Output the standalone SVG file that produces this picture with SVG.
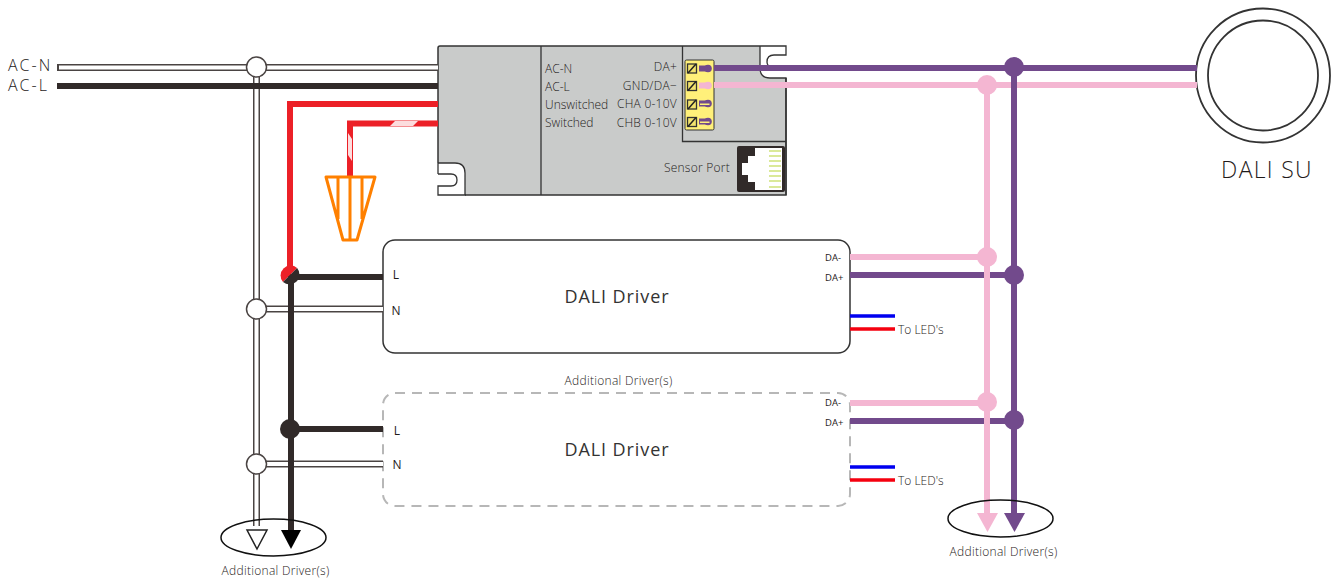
<svg xmlns="http://www.w3.org/2000/svg" width="1335" height="582" viewBox="0 0 1335 582">
<defs>
<style>
text{font-family:"Open Sans","Noto Sans","Liberation Sans",sans-serif;fill:#1f1b1a;font-weight:300}
.nb{fill:none;stroke:#4a4443;stroke-width:7}
.nw{fill:none;stroke:#fff;stroke-width:4}
.blk{fill:none;stroke:#312a29;stroke-width:6}
.red{fill:none;stroke:#ec2027;stroke-width:6}
.pur{fill:none;stroke:#724a8c;stroke-width:6}
.pnk{fill:none;stroke:#f4b6d2;stroke-width:6}
.cj{fill:#fff;stroke:#4a4443;stroke-width:1.5}
.org{fill:none;stroke:#ff8000;stroke-width:3;stroke-linejoin:round}
.blu{stroke:#0000f0;stroke-width:3.5}
.rd2{stroke:#f5000f;stroke-width:3.5}
.sc{fill:#f2e36e;stroke:#333;stroke-width:1.3}
.box{fill:#fff;stroke:#333;stroke-width:1.5}
.e{fill:none;stroke:#111;stroke-width:1.5}
.gr{stroke:#b5d334;stroke-width:1.2}
.da{font-size:9.5px;font-weight:400}
.ad{font-size:12px;letter-spacing:.3px}
.dd{font-size:18px;letter-spacing:.9px;font-weight:400;fill:#333}
.lr{font-size:12px;font-weight:400}
</style>
</defs>
<g id="sensor-unit">
<circle cx="1263" cy="75.500" r="67" fill="#fff" stroke="#333" stroke-width="1.800"/>
<circle cx="1263" cy="75.500" r="55" fill="#fff" stroke="#333" stroke-width="1.800"/>
<text x="1267" y="178" font-size="23" letter-spacing="1.300" text-anchor="middle">DALI SU</text>
</g>
<g id="controller">
<path d="M440 46H786V195H440a2 2 0 0 1-2-2V48a2 2 0 0 1 2-2Z" fill="#c9cbca" stroke="#333" stroke-width="1.500"/>
<path d="M760 45V68Q760 78 770 78H787V45Z" fill="#fff"/>
<path d="M760 46H786V55H774Q767 55 767 62Q767 67 773 67H786M760 46V68Q760 78 770 78H786V195" fill="none" stroke="#333" stroke-width="1.300"/>
<path d="M437 163H455Q465 163 465 173V196H437Z" fill="#fff"/>
<path d="M438 163H455Q465 163 465 173V195M438 174H451Q457 174 457 180Q457 186 451 186H438V195H466M438 163V174" fill="none" stroke="#333" stroke-width="1.300"/>
<path d="M541 46V195M682.500 46V141.500H786" fill="none" stroke="#333" stroke-width="1.300"/>
<rect x="685" y="60" width="29" height="70" rx="1.500" fill="#fff07a" stroke="#333" stroke-width="1"/>
<g id="terminals">
<rect class="sc" x="687.500" y="64" width="9" height="9"/><path d="M688 73L696 64" stroke="#222" stroke-width="1.500"/>
<rect class="sc" x="687.500" y="81.500" width="9" height="9"/><path d="M688 90.500L696 81.500" stroke="#222" stroke-width="1.500"/>
<rect class="sc" x="687.500" y="100" width="9" height="9"/><path d="M688 109L696 100" stroke="#222" stroke-width="1.500"/>
<rect class="sc" x="687.500" y="117.500" width="9" height="9"/><path d="M688 126.500L696 117.500" stroke="#222" stroke-width="1.500"/>
<path d="M699 65.500H707V71.500H699Z" fill="#724a8c"/><circle cx="708" cy="68.500" r="3.800" fill="#724a8c"/>
<path d="M699 82.500H707V88.500H699Z" fill="#f4b6d2"/><circle cx="708" cy="85.500" r="3.800" fill="#f4b6d2"/>
<path d="M699 100.500H707V106.500H699Z" fill="#724a8c"/><circle cx="708" cy="103.500" r="3.800" fill="#724a8c"/><rect x="700" y="103.500" width="9.500" height="1.500" fill="#fff07a"/>
<path d="M699 118.500H707V124.500H699Z" fill="#724a8c"/><circle cx="708" cy="121.500" r="3.800" fill="#724a8c"/><rect x="700" y="121.500" width="9.500" height="1.500" fill="#fff07a"/>
</g>
<g id="sensor-port">
<rect x="737" y="146" width="48" height="46" rx="2" fill="#312a29"/>
<path d="M755 148H782V190H755V182H748V175H742V163H748V156H755Z" fill="#fff"/>
<path class="gr" d="M769 151H781M769 156H781M769 161H781M769 166H781M769 171H781M769 176H781M769 181H781M769 187H781"/>
</g>
<g font-size="12">
<text x="545" y="73">AC-N</text>
<text x="545" y="91">AC-L</text>
<text x="545" y="108.500">Unswitched</text>
<text x="545" y="126.500">Switched</text>
</g>
<g font-size="12" letter-spacing=".25">
<text x="677" y="71" text-anchor="end">DA+</text>
<text x="677" y="90" text-anchor="end">GND/DA−</text>
<text x="677" y="108" text-anchor="end">CHA 0-10V</text>
<text x="677" y="127" text-anchor="end">CHB 0-10V</text>
<text x="730" y="172" text-anchor="end">Sensor Port</text>
</g>
</g>
<g id="driver-1">
<rect class="box" x="383" y="240" width="467" height="113" rx="12"/>
<text class="dd" x="617" y="303" text-anchor="middle">DALI Driver</text>
<text class="lr" x="396" y="279" text-anchor="middle">L</text>
<text class="lr" x="396" y="315" text-anchor="middle">N</text>
<text class="da" x="825" y="261">DA-</text>
<text class="da" x="825" y="281">DA+</text>
</g>
<g id="driver-2">
<rect x="383" y="393" width="467" height="113" rx="12" fill="#fff" stroke="#b7b7b7" stroke-width="2" stroke-dasharray="10 7"/>
<text class="dd" x="617" y="456" text-anchor="middle">DALI Driver</text>
<text class="lr" x="397" y="435" text-anchor="middle">L</text>
<text class="lr" x="397" y="469" text-anchor="middle">N</text>
<text class="da" x="825" y="406">DA-</text>
<text class="da" x="825" y="426">DA+</text>
</g>
<g id="connectors">
<path class="nb" d="M57 67.500H438M256.500 67V526M256.500 309H383M256.500 464H383"/>
<path class="nw" d="M59 67.500H438M256.500 67V526M256.500 309H383M256.500 464H383"/>
<path class="blk" d="M57 86H438"/>
<path class="red" d="M438 104H290V270"/>
<path class="red" d="M438 123.500H350V178"/>
<path d="M390 126L395 121H418L413 126ZM348 133L352 139V161L348 155Z" fill="#fff" opacity=".85"/>
<path class="blk" d="M291 275V531M290 277H383M290 429H383"/>
<path class="org" d="M326 177H375L357 240H343ZM338 177V219M350 177V240M362 177V219"/>
<circle class="cj" cx="256.500" cy="67" r="10"/>
<circle class="cj" cx="256.500" cy="309" r="10"/>
<circle class="cj" cx="256.500" cy="464" r="10"/>
<path d="M283 282.100A10 10 0 0 1 297.100 268Z" fill="#ec2027"/>
<path d="M283 282.100A10 10 0 0 0 297.100 268Z" fill="#312a29"/>
<circle cx="290" cy="429" r="10" fill="#312a29"/>
<path d="M247 530H267L257 549Z" fill="#fff" stroke="#222" stroke-width="1.500"/>
<path d="M281 530H301L291 549Z" fill="#000"/>
<path class="pnk" d="M714 85H1197"/>
<path class="pur" d="M714 68H1197M850 275H1014M850 421H1014M1014 68V515"/>
<path class="pnk" d="M850 257H987M850 403H987M987 85V515"/>
<circle cx="1014" cy="67" r="10" fill="#724a8c"/>
<circle cx="1014" cy="275" r="10" fill="#724a8c"/>
<circle cx="1014" cy="420" r="10" fill="#724a8c"/>
<circle cx="987" cy="85" r="10" fill="#f4b6d2"/>
<circle cx="987" cy="257" r="10" fill="#f4b6d2"/>
<circle cx="987" cy="402" r="10" fill="#f4b6d2"/>
<path d="M977 513H998L987.500 532Z" fill="#f4b6d2"/>
<path d="M1004 513H1025L1014.500 532Z" fill="#724a8c"/>
<path class="blu" d="M850 316H895M850 467H895"/>
<path class="rd2" d="M850 329H895M850 480H895"/>
<ellipse class="e" cx="273.500" cy="537.500" rx="52.500" ry="18.500"/>
<ellipse class="e" cx="1000.500" cy="518.500" rx="52.500" ry="18.500"/>
</g>
<g id="labels">
<text x="8" y="71" font-size="16" letter-spacing="2">AC-N</text>
<text x="8" y="91" font-size="16" letter-spacing="2">AC-L</text>
<text x="898" y="334" font-size="12">To LED's</text>
<text x="898" y="485" font-size="12">To LED's</text>
<text class="ad" x="618.500" y="385" text-anchor="middle">Additional Driver(s)</text>
<text class="ad" x="275.500" y="575" text-anchor="middle">Additional Driver(s)</text>
<text class="ad" x="1003.500" y="556" text-anchor="middle">Additional Driver(s)</text>
</g>
</svg>
